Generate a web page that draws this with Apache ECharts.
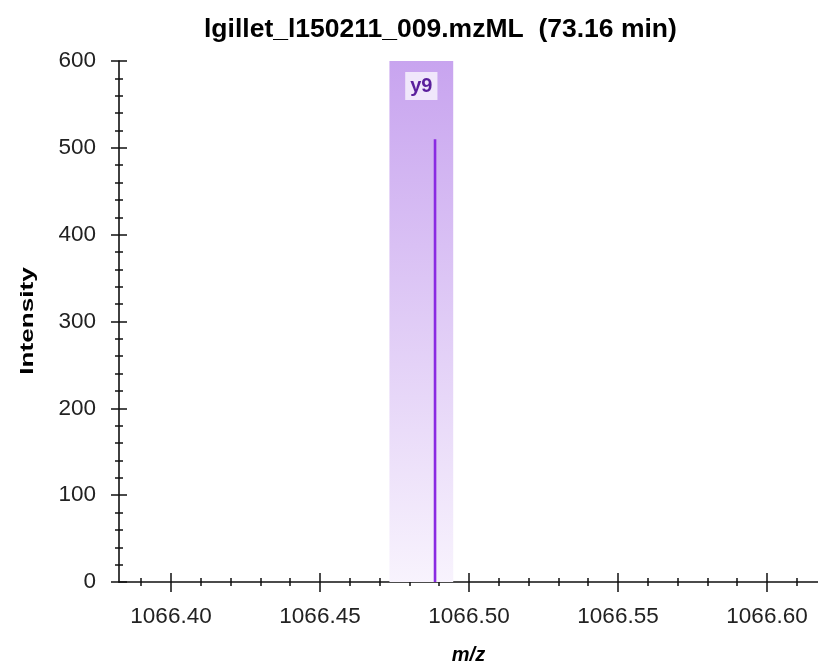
<!DOCTYPE html>
<html>
<head>
<meta charset="utf-8">
<script src="https://cdn.jsdelivr.net/npm/echarts@6/dist/echarts.min.js"></script>
<style>
  html, body { margin: 0; padding: 0; background: #fff; }
  #chart { width: 818px; height: 670px; }
</style>
</head>
<body>
<div id="chart"></div>
<script>
// Spectrum peak data (m/z, intensity) and its fragment annotation
const peakMz = [1066.4886];
const peakIntensity = [510];
const ionLabels = ['y9'];
// m/z window highlighted for the matched ion
const ionWindow = [1066.4733, 1066.4947];

// Axis extents and tick labels
const mzRange = [1066.38255, 1066.61711];
const mzTickLabels = [1066.40, 1066.45, 1066.50, 1066.55, 1066.60];
const intensityRange = [0, 600];
const intensityStep = 100;

const titleText = 'lgillet_l150211_009.mzML  (73.16 min)';

// minor m/z ticks every 0.01 inside the window
const mzMinorTicks = [];
for (let k = Math.ceil(mzRange[0] * 100 - 1e-6); k <= Math.floor(mzRange[1] * 100 + 1e-6); k++) {
  mzMinorTicks.push(k / 100);
}

const axisColor = '#111';
const sansFont = "'Liberation Sans', Arial, sans-serif";

const chart = echarts.init(document.getElementById('chart'), null, { renderer: 'canvas' });

// extra bottom axes that only draw tick marks crossing the axis line
const tickAxisX = (offset, values, len) => ({
  type: 'value', gridIndex: 0, position: 'bottom', offset: offset,
  min: mzRange[0], max: mzRange[1],
  axisLine: { show: false, onZero: false }, axisLabel: { show: false }, splitLine: { show: false },
  axisTick: { show: true, inside: true, length: len, customValues: values,
              lineStyle: { color: axisColor, width: 1.5 } }
});

chart.setOption({
  animation: false,
  backgroundColor: '#ffffff',
  title: {
    text: titleText,
    left: 199, top: 11,
    textStyle: { fontFamily: sansFont, fontSize: 26.5, fontWeight: 'bold', color: '#000' }
  },
  grid: { left: 119, right: 0, top: 61, bottom: 88, containLabel: false },
  xAxis: [
    {
      type: 'value', gridIndex: 0, position: 'bottom',
      min: mzRange[0], max: mzRange[1],
      axisLine: { show: true, onZero: false, lineStyle: { color: axisColor, width: 1.6 } },
      axisTick: { show: false },
      splitLine: { show: false },
      axisLabel: {
        customValues: mzTickLabels,
        formatter: v => v.toFixed(2),
        fontFamily: sansFont, fontSize: 22.5, color: '#222', margin: 23
      },
      name: 'm/z', nameLocation: 'middle', nameGap: 63,
      nameTextStyle: { fontFamily: sansFont, fontSize: 20,
                       fontWeight: 'bold', fontStyle: 'italic', color: '#000' }
    },
    tickAxisX(10, mzTickLabels, 19),
    tickAxisX(4, mzMinorTicks, 8)
  ],
  yAxis: [
    {
      type: 'value', gridIndex: 0, position: 'left',
      min: intensityRange[0], max: intensityRange[1], interval: intensityStep,
      axisLine: { show: true, onZero: false, lineStyle: { color: axisColor, width: 1.6 } },
      axisTick: { show: false },
      splitLine: { show: false },
      axisLabel: { fontFamily: sansFont, fontSize: 22.5, color: '#222', margin: 23 }
    },
    {
      type: 'value', gridIndex: 0, position: 'left', offset: 8,
      min: intensityRange[0], max: intensityRange[1], interval: intensityStep,
      axisLine: { show: false, onZero: false }, axisLabel: { show: false }, splitLine: { show: false },
      axisTick: { show: true, inside: true, length: 16, lineStyle: { color: axisColor, width: 1.5 } }
    },
    {
      type: 'value', gridIndex: 0, position: 'left', offset: 4,
      min: intensityRange[0], max: intensityRange[1], interval: intensityStep,
      axisLine: { show: false, onZero: false }, axisLabel: { show: false }, splitLine: { show: false },
      axisTick: { show: false, inside: true },
      minorTick: { show: true, splitNumber: 5, length: 8, lineStyle: { color: axisColor, width: 1.5 } }
    }
  ],
  graphic: [{
    type: 'text',
    x: 28, y: 321,
    rotation: Math.PI / 2,
    scaleX: 1.45,
    style: {
      text: 'Intensity',
      fontFamily: sansFont,
      fontSize: 18, fontWeight: 'bold', fill: '#000',
      align: 'center', verticalAlign: 'middle'
    }
  }],
  series: [{
    type: 'bar',
    xAxisIndex: 0, yAxisIndex: 0,
    barWidth: 2.6,
    itemStyle: { color: '#8a2be2' },
    data: peakMz.map((mz, i) => [mz, peakIntensity[i]]),
    markArea: {
      silent: true,
      itemStyle: {
        color: new echarts.graphic.LinearGradient(0, 0, 0, 1, [
          { offset: 0, color: '#c8a4ef' },
          { offset: 1, color: '#f8f3fd' }
        ])
      },
      label: {
        show: true, position: 'insideTop', distance: 11,
        fontFamily: sansFont,
        fontSize: 20, fontWeight: 'bold', color: '#5a1f9c',
        backgroundColor: '#f0e7fb', padding: [4, 5]
      },
      data: [[
        { name: ionLabels[0], xAxis: ionWindow[0] },
        { xAxis: ionWindow[1] }
      ]]
    }
  }]
});
</script>
</body>
</html>
